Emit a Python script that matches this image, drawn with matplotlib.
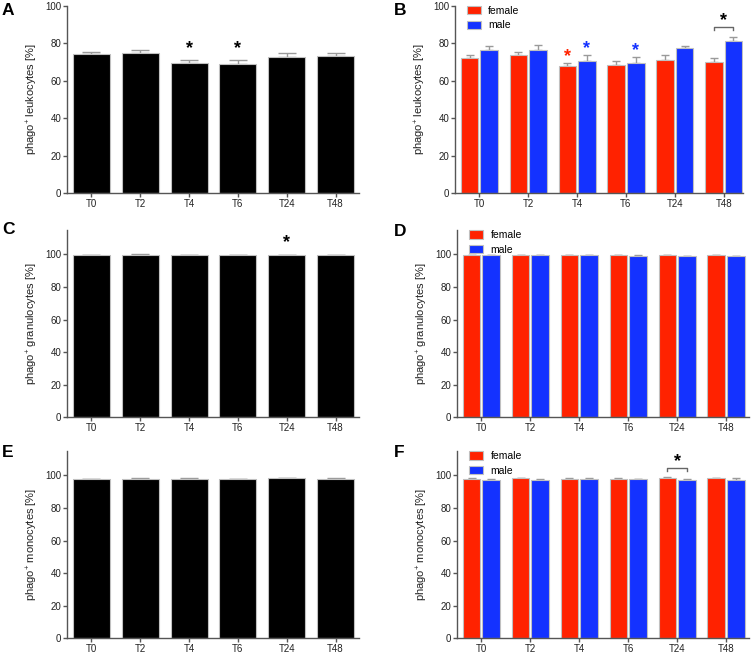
import matplotlib
matplotlib.use("Agg")
import matplotlib.pyplot as plt
import numpy as np

plt.rcParams['font.family'] = ['Liberation Sans', 'DejaVu Sans']
plt.rcParams['mathtext.fontset'] = 'custom'
plt.rcParams['mathtext.rm'] = 'Liberation Sans'
plt.rcParams['mathtext.default'] = 'regular'

categories = ["T0", "T2", "T4", "T6", "T24", "T48"]

# Panel A: leukocytes, all
A_mean = [74.0, 75.0, 69.2, 69.0, 72.7, 73.3]
A_err = [1.4, 1.6, 1.6, 1.8, 2.2, 1.7]
# Panel B: leukocytes by sex
B_female = [71.9, 73.9, 67.7, 68.2, 70.9, 70.2]
B_female_err = [1.6, 1.6, 1.7, 2.5, 2.6, 1.7]
B_male = [76.2, 76.6, 70.7, 69.4, 77.3, 81.3]
B_male_err = [2.3, 2.3, 2.8, 3.1, 1.2, 2.2]
# Panel C: granulocytes, all
C_mean = [99.8, 99.9, 99.8, 99.7, 99.6, 99.7]
C_err = [0.1, 0.1, 0.1, 0.1, 0.1, 0.1]
# Panel D: granulocytes by sex
D_female = [99.8, 99.8, 99.8, 99.8, 99.7, 99.7]
D_female_err = [0.1, 0.1, 0.1, 0.1, 0.1, 0.1]
D_male = [99.6, 99.7, 99.5, 99.2, 98.9, 99.1]
D_male_err = [0.1, 0.1, 0.1, 0.2, 0.3, 0.2]
# Panel E: monocytes, all
E_mean = [97.6, 98.0, 98.0, 97.8, 98.4, 98.0]
E_err = [0.3, 0.3, 0.3, 0.3, 0.3, 0.3]
# Panel F: monocytes by sex
F_female = [98.0, 98.4, 98.0, 98.0, 98.6, 98.4]
F_female_err = [0.3, 0.3, 0.3, 0.3, 0.3, 0.3]
F_male = [97.2, 97.4, 97.8, 97.6, 97.4, 97.0]
F_male_err = [0.4, 0.4, 0.4, 0.4, 0.5, 1.2]

ylabels = ["phago$^{+}$ leukocytes [%]", "phago$^{+}$ granulocytes [%]",
           "phago$^{+}$ monocytes [%]"]

RED = "#ff2200"
BLUE = "#1432ff"
EDGE = "#c0c0c0"
ERRC = "#9a9a9a"
SPINE = "#555555"

W, H = 752, 653
fig = plt.figure(figsize=(W / 100, H / 100), dpi=100)

def ax_at(left, right, top, bottom):
    return fig.add_axes([left / W, 1 - bottom / H, (right - left) / W, (bottom - top) / H])

rows = [(5.7, 193.3), (230, 417.3), (451, 638.3)]
axA = ax_at(67, 359, *rows[0])
axB = ax_at(455, 742.7, *rows[0])
axC = ax_at(67, 359, *rows[1])
axD = ax_at(457, 749, *rows[1])
axE = ax_at(67, 359, *rows[2])
axF = ax_at(457, 749, *rows[2])

x = np.arange(len(categories))

def style(ax, ylabel, ymax, xmax):
    for s in ["top", "right"]:
        ax.spines[s].set_visible(False)
    for s in ["left", "bottom"]:
        ax.spines[s].set_color(SPINE)
        ax.spines[s].set_linewidth(1.0)
    ax.set_xlim(-0.5, xmax)
    ax.set_ylim(0, ymax)
    ax.set_yticks([0, 20, 40, 60, 80, 100])
    ax.set_xticks(x)
    ax.set_xticklabels(categories)
    ax.tick_params(axis="both", direction="out", length=3, width=1.0, color=SPINE,
                   labelsize=7, labelcolor="#222222", pad=1)
    ax.set_ylabel(ylabel, fontsize=8, color="#222222", labelpad=4)

def single(ax, mean, err, capsize):
    ax.bar(x, mean, width=0.76, color="black", edgecolor=EDGE, linewidth=0.8, zorder=2)
    ax.errorbar(x, mean, yerr=[np.zeros(len(err)), err], fmt="none", ecolor=ERRC,
                elinewidth=1.0, capsize=capsize, capthick=1.0, zorder=1)

def paired(ax, fem, fem_err, mal, mal_err, capsize):
    off = 0.2
    bw = 0.36
    ax.bar(x - off, fem, width=bw, color=RED, edgecolor=EDGE, linewidth=0.8, zorder=2, label="female")
    ax.bar(x + off, mal, width=bw, color=BLUE, edgecolor=EDGE, linewidth=0.8, zorder=2, label="male")
    ax.errorbar(x - off, fem, yerr=[np.zeros(len(fem_err)), fem_err], fmt="none", ecolor=ERRC,
                elinewidth=1.0, capsize=capsize, capthick=1.0, zorder=1)
    ax.errorbar(x + off, mal, yerr=[np.zeros(len(mal_err)), mal_err], fmt="none", ecolor=ERRC,
                elinewidth=1.0, capsize=capsize, capthick=1.0, zorder=1)
    ax.legend(loc="upper left", bbox_to_anchor=(0.04, 1.0), frameon=False, fontsize=7.5,
              handlelength=1.4, handleheight=0.85, handletextpad=0.7, labelspacing=0.45,
              borderpad=0, borderaxespad=0)

def star(ax, xpos, ypos, color="black"):
    ax.text(xpos, ypos, "*", ha="center", va="center", fontsize=13, color=color,
            fontweight="bold")

def bracket(ax, x0, x1, y, tick):
    ax.plot([x0, x0, x1, x1], [y - tick, y, y, y - tick], color="#666666", lw=1.0)

single(axA, A_mean, A_err, 6.5)
style(axA, ylabels[0], 100, 5.48)
star(axA, 2, 77.0)
star(axA, 3, 77.0)

paired(axB, B_female, B_female_err, B_male, B_male_err, 2.8)
style(axB, ylabels[0], 100, 5.39)
star(axB, 2 - 0.2, 72.8, RED)
star(axB, 2 + 0.2, 77.1, BLUE)
star(axB, 3 + 0.2, 76.0, BLUE)
bracket(axB, 5 - 0.2, 5 + 0.2, 88.8, 1.5)
star(axB, 5, 92.2)

single(axC, C_mean, C_err, 6.5)
style(axC, ylabels[1], 115, 5.48)
star(axC, 4, 107.2)

paired(axD, D_female, D_female_err, D_male, D_male_err, 2.8)
style(axD, ylabels[1], 115, 5.47)

single(axE, E_mean, E_err, 6.5)
style(axE, ylabels[2], 115, 5.48)

paired(axF, F_female, F_female_err, F_male, F_male_err, 2.8)
style(axF, ylabels[2], 115, 5.47)
bracket(axF, 4 - 0.2, 4 + 0.2, 104.7, 1.7)
star(axF, 4, 108.8)

labels = [("A", 2, 3), ("B", 394, 3), ("C", 2, 222), ("D", 394, 224), ("E", 2, 445), ("F", 394, 445)]
for t, px, py in labels:
    fig.text(px / W, 1 - py / H, t, fontsize=12.5, fontweight="bold", ha="left", va="top")

fig.savefig("out.png", dpi=100)
